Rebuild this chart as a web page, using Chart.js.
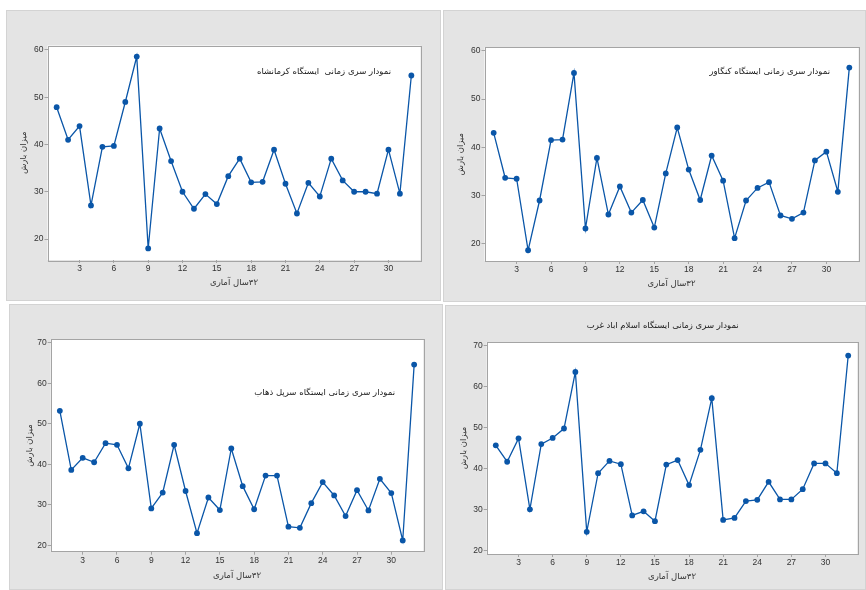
<!DOCTYPE html>
<html>
<head>
<meta charset="utf-8">
<script src="https://cdn.jsdelivr.net/npm/chart.js"></script>
<style>
  body { margin: 0; background: #fff; width: 866px; height: 590px; position: relative; overflow: hidden; }
  .panel { position: absolute; background: #e4e4e4; box-shadow: inset 0 0 0 1px #d3d3d3; }
  .panel canvas { position: absolute; left: 0; top: 0; }
</style>
</head>
<body>

<div class="panel" style="left:6px;top:10px;width:435px;height:291px">
  <canvas id="kermanshahChart" dir="rtl" width="435" height="291"></canvas>
</div>
<div class="panel" style="left:443px;top:10px;width:423px;height:292px">
  <canvas id="kangavarChart" dir="rtl" width="423" height="292"></canvas>
</div>
<div class="panel" style="left:9px;top:304px;width:434px;height:286px">
  <canvas id="sarpolChart" dir="rtl" width="434" height="286"></canvas>
</div>
<div class="panel" style="left:445px;top:305px;width:421px;height:285px">
  <canvas id="eslamabadChart" dir="rtl" width="421" height="285"></canvas>
</div>

<script>
    // 32 years of rainfall per station
    const years = [1, 2, 3, 4, 5, 6, 7, 8, 9, 10, 11, 12, 13, 14, 15, 16,
                   17, 18, 19, 20, 21, 22, 23, 24, 25, 26, 27, 28, 29, 30, 31, 32];

    const kermanshah = [47.9, 41.0, 43.9, 27.1, 39.5, 39.7, 49.0, 58.6, 18.0, 43.4, 36.5, 30.0, 26.4, 29.5, 27.4, 33.3,
                        37.0, 32.0, 32.1, 38.9, 31.7, 25.4, 31.9, 29.0, 37.0, 32.4, 30.0, 30.0, 29.6, 38.9, 29.6, 54.6];
    const kangavar = [43.0, 33.7, 33.5, 18.7, 29.0, 41.5, 41.6, 55.4, 23.2, 37.8, 26.1, 31.9, 26.5, 29.1, 23.4, 34.6,
                      44.1, 35.4, 29.1, 38.3, 33.1, 21.2, 29.0, 31.6, 32.8, 25.9, 25.2, 26.5, 37.3, 39.1, 30.8, 56.5];
    const sarpolZahab = [53.2, 38.6, 41.6, 40.5, 45.2, 44.8, 39.0, 50.0, 29.1, 33.0, 44.8, 33.4, 23.0, 31.8, 28.7, 43.9,
                         34.6, 28.9, 37.2, 37.2, 24.6, 24.3, 30.4, 35.6, 32.3, 27.2, 33.6, 28.6, 36.4, 32.9, 21.2, 64.6];
    const eslamabad = [45.7, 41.7, 47.4, 30.1, 46.0, 47.5, 49.8, 63.6, 24.6, 38.9, 41.9, 41.1, 28.6, 29.6, 27.2, 41.0,
                       42.1, 36.0, 44.6, 57.2, 27.5, 28.0, 32.1, 32.4, 36.8, 32.5, 32.5, 35.0, 41.3, 41.3, 38.9, 67.6];

    const xTickValues = [3, 6, 9, 12, 15, 18, 21, 24, 27, 30];
    const yTicksUpper = [20, 30, 40, 50, 60];
    const yTicksLower = [20, 30, 40, 50, 60, 70];

    const xTitle = '۳۲سال آماری';
    const yTitle = 'میزان بارش';

    const blue = '#0a56a8';
    const tickFont = { family: '"Liberation Sans", Arial, sans-serif', size: 8.5 };
    const faFont = '"DejaVu Sans", sans-serif';

    // white plot area, grey frame and the station caption
    const framePlugin = {
        id: 'frame',
        beforeDraw(chart) {
            const { ctx, chartArea: a } = chart;
            ctx.save();
            ctx.fillStyle = '#fff';
            ctx.fillRect(a.left, a.top, a.right - a.left, a.bottom - a.top);
            ctx.restore();
        },
        afterDraw(chart, args, opts) {
            const { ctx, chartArea: a } = chart;
            ctx.save();
            ctx.strokeStyle = '#a4a4a4';
            ctx.lineWidth = 1;
            ctx.strokeRect(Math.round(a.left) + 0.5, Math.round(a.top) + 0.5,
                           Math.round(a.right - a.left), Math.round(a.bottom - a.top));
            ctx.fillStyle = '#1a1a1a';
            ctx.font = opts.size + 'px ' + faFont;
            ctx.direction = 'rtl';
            ctx.textAlign = opts.align;
            ctx.textBaseline = 'middle';
            ctx.fillText(opts.text, opts.x, opts.y);
            ctx.restore();
        }
    };

    function makeChart(id, values, yRange, yTicks, box, caption) {
        return new Chart(document.getElementById(id), {
            type: 'line',
            data: {
                datasets: [{
                    data: years.map((y, i) => ({ x: y, y: values[i] })),
                    borderColor: blue,
                    backgroundColor: blue,
                    borderWidth: 1.3,
                    pointRadius: 2.9,
                    pointBackgroundColor: blue,
                    pointBorderWidth: 0,
                    tension: 0
                }]
            },
            options: {
                responsive: false,
                animation: false,
                layout: { padding: box.pad },
                plugins: {
                    legend: { display: false },
                    tooltip: { enabled: false },
                    frame: caption
                },
                scales: {
                    x: {
                        type: 'linear',
                        min: 0.2,
                        max: 32.8,
                        afterBuildTicks: s => { s.ticks = xTickValues.map(v => ({ value: v })); },
                        afterFit: s => { s.height = box.xH; },
                        border: { display: false },
                        grid: { drawOnChartArea: false, tickLength: 3, color: '#a4a4a4' },
                        ticks: { font: tickFont, color: '#333', padding: 1, autoSkip: false, maxRotation: 0 },
                        title: { display: true, text: xTitle, color: '#333', padding: 0,
                                 font: { family: faFont, size: 8.5 } }
                    },
                    y: {
                        min: yRange[0],
                        max: yRange[1],
                        afterBuildTicks: s => { s.ticks = yTicks.map(v => ({ value: v })); },
                        afterFit: s => { s.width = box.yW; },
                        border: { display: false },
                        grid: { drawOnChartArea: false, tickLength: 3, color: '#a4a4a4' },
                        ticks: { font: tickFont, color: '#333', padding: 1 },
                        title: { display: true, text: yTitle, color: '#333', padding: 0,
                                 font: { family: faFont, size: 8.5 } }
                    }
                }
            },
            plugins: [framePlugin]
        });
    }

    makeChart('kermanshahChart', kermanshah, [15.56, 60.95], yTicksUpper,
        { pad: { left: 12.2, top: 35.5, right: 20.5, bottom: 13.2 }, yW: 29.3, xH: 27.8 },
        { text: 'نمودار سری زمانی  ایستگاه کرمانشاه', x: 385, y: 62, align: 'right', size: 8.5 });

    makeChart('kangavarChart', kangavar, [16.48, 60.7], yTicksUpper,
        { pad: { left: 12.6, top: 37.3, right: 7.5, bottom: 12.9 }, yW: 28.9, xH: 28.1 },
        { text: 'نمودار سری زمانی ایستگاه کنگاور', x: 387, y: 62, align: 'right', size: 8.5 });

    makeChart('sarpolChart', sarpolZahab, [18.42, 70.84], yTicksLower,
        { pad: { left: 15.9, top: 35.3, right: 19.7, bottom: 9.6 }, yW: 25.8, xH: 28.7 },
        { text: 'نمودار سری زمانی ایستگاه سرپل ذهاب', x: 386, y: 89, align: 'right', size: 8.5 });

    makeChart('eslamabadChart', eslamabad, [19.2, 70.9], yTicksLower,
        { pad: { left: 13.2, top: 37, right: 8.7, bottom: 8.2 }, yW: 28.5, xH: 27.8 },
        { text: 'نمودار سری زمانی ایستگاه اسلام اباد غرب', x: 217.7, y: 21, align: 'center', size: 8.5 });
</script>
</body>
</html>
